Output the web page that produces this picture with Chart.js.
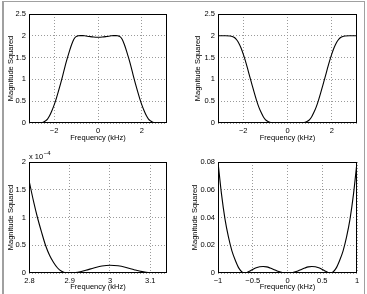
<!DOCTYPE html>
<html><head><meta charset="utf-8">
<script src="https://cdn.jsdelivr.net/npm/chart.js@4/dist/chart.umd.min.js"></script>
<style>
html,body{margin:0;padding:0;background:#fff;width:367px;height:294px;overflow:hidden}
#frame{position:absolute;left:2px;top:1px;width:363px;height:300px;box-sizing:border-box;border-left:2px solid #a0a0a0;border-top:1px solid #a0a0a0;border-right:1px solid #a0a0a0}
.c{position:absolute}
</style></head><body>
<div id="frame"></div>
<div class="c" style="left:0;top:0;width:183px;height:147px"><canvas id="c1"></canvas></div>
<div class="c" style="left:183px;top:0;width:184px;height:147px"><canvas id="c2"></canvas></div>
<div class="c" style="left:0;top:147px;width:183px;height:147px"><canvas id="c3"></canvas></div>
<div class="c" style="left:183px;top:147px;width:184px;height:147px"><canvas id="c4"></canvas></div>
<script>
// ---- data ----
const lpFreq = [-3.1416,-2.8,-2.6,-2.5,-2.4,-2.3,-2.2,-2.1,-2.0,-1.9,-1.8,-1.7,-1.6,-1.5,-1.4,-1.3,-1.2,-1.1,-1.0,-0.9,-0.8,-0.7,-0.6,-0.4,-0.2,0,0.2,0.4,0.6,0.7,0.8,0.9,1.0,1.1,1.2,1.3,1.4,1.5,1.6,1.7,1.8,1.9,2.0,2.1,2.2,2.3,2.4,2.5,2.6,2.8,3.1416];
const lpMag  = [0,0,0,0.015,0.045,0.09,0.17,0.28,0.41,0.56,0.73,0.91,1.1,1.3,1.48,1.65,1.8,1.92,1.98,2.0,2.005,2.005,2.0,1.985,1.972,1.968,1.972,1.985,2.0,2.005,2.005,2.0,1.98,1.92,1.8,1.65,1.48,1.3,1.1,0.91,0.73,0.56,0.41,0.28,0.17,0.09,0.045,0.015,0,0,0];

const hpFreq = [-3.1416,-2.8,-2.6,-2.5,-2.4,-2.3,-2.2,-2.1,-2.0,-1.9,-1.8,-1.7,-1.6,-1.5,-1.4,-1.3,-1.2,-1.1,-1.0,-0.9,-0.8,-0.7,-0.65,-0.5,-0.35,-0.2,0,0.2,0.35,0.5,0.65,0.7,0.8,0.9,1.0,1.1,1.2,1.3,1.4,1.5,1.6,1.7,1.8,1.9,2.0,2.1,2.2,2.3,2.4,2.5,2.6,2.8,3.1416];
const hpMag  = [2.0,2.0,1.995,1.985,1.96,1.91,1.83,1.72,1.58,1.42,1.24,1.05,0.87,0.69,0.52,0.37,0.25,0.15,0.08,0.039,0.016,0.0035,0.0006,0.0026,0.0047,0.0026,0,0.0026,0.0047,0.0026,0.0006,0.0035,0.016,0.039,0.08,0.15,0.25,0.37,0.52,0.69,0.87,1.05,1.24,1.42,1.58,1.72,1.83,1.91,1.96,1.985,1.995,2.0,2.0];

// low-pass stopband detail, values in units of 1e-4
const lpStopFreq = [2.799,2.81,2.82,2.83,2.84,2.85,2.86,2.87,2.88,2.89,2.9,2.92,2.94,2.96,2.98,3.0,3.02,3.04,3.06,3.08,3.1,3.11,3.12,3.1416];
const lpStopMag  = [1.67,1.3,1.0,0.74,0.5,0.32,0.19,0.09,0.03,0.003,0,0.015,0.05,0.09,0.125,0.14,0.13,0.1,0.06,0.025,0.004,0,0.001,0.004];

// high-pass stopband detail
const hpStopFreq = [-1,-0.95,-0.9,-0.85,-0.8,-0.75,-0.7,-0.65,-0.6,-0.55,-0.5,-0.45,-0.4,-0.35,-0.3,-0.25,-0.2,-0.15,-0.1,-0.05,0,0.05,0.1,0.15,0.2,0.25,0.3,0.35,0.4,0.45,0.5,0.55,0.6,0.65,0.7,0.75,0.8,0.85,0.9,0.95,1];
const hpStopMag  = [0.08,0.057,0.039,0.026,0.016,0.009,0.0035,0.0006,0.0002,0.0012,0.0026,0.0038,0.0045,0.0047,0.0044,0.0036,0.0026,0.0015,0.0007,0.0002,0,0.0002,0.0007,0.0015,0.0026,0.0036,0.0044,0.0047,0.0045,0.0038,0.0026,0.0012,0.0002,0.0006,0.0035,0.009,0.016,0.026,0.039,0.057,0.08];

const fullXTicks = [-2,0,2];
const fullYTicks = [0,0.5,1,1.5,2,2.5];
const lpStopXTicks = [2.8,2.9,3,3.1];
const lpStopYTicks = [0,0.5,1,1.5,2];
const hpStopXTicks = [-1,-0.5,0,0.5,1];
const hpStopYTicks = [0,0.02,0.04,0.06,0.08];
const xTitle = 'Frequency (kHz)';
const yTitle = 'Magnitude Squared';

// ---- drawing ----
const FONT = '"Liberation Sans", Arial, sans-serif';
function fmt(v){ const s = String(+v.toFixed(4)); return v < 0 ? '\u2212' + s.slice(1) : s; }

const boxPlugin = {
  id:'box',
  afterDraw(chart, args, opts){
    const a = chart.chartArea, ctx = chart.ctx;
    ctx.save();
    ctx.strokeStyle = '#000'; ctx.lineWidth = 1;
    ctx.strokeRect(Math.round(a.left)+0.5, Math.round(a.top)+0.5, Math.round(a.right-a.left)-1, Math.round(a.bottom-a.top)-1);
    ctx.fillStyle = '#000';
    // y-axis title
    ctx.save();
    ctx.font = '7.5px ' + FONT;
    ctx.textAlign = 'center'; ctx.textBaseline = 'middle';
    ctx.translate(opts.ytx, (a.top + a.bottom) / 2);
    ctx.rotate(-Math.PI / 2);
    ctx.fillText(opts.yTitle, 0, 0);
    ctx.restore();
    if (opts.exp) {
      ctx.font = '7.5px ' + FONT;
      ctx.textBaseline = 'alphabetic'; ctx.textAlign = 'left';
      ctx.fillText('x 10', a.left, a.top - 3);
      const w = ctx.measureText('x 10').width;
      ctx.font = '6px ' + FONT;
      ctx.fillText('\u22124', a.left + w + 0.5, a.top - 7);
    }
    ctx.restore();
  }
};

function make(id, xs, ys, xmin, xmax, xt, yt, ymax, geo, exp){
  const ticksFrom = arr => (scale => { scale.ticks = arr.map(v => ({value:v})); });
  return new Chart(document.getElementById(id), {
    type:'line',
    data:{ datasets:[{ data: xs.map((x,i)=>({x:x, y:ys[i]})), borderColor:'#000', borderWidth:1.1, pointRadius:0, cubicInterpolationMode:'monotone', fill:false }]},
    options:{
      responsive:true, maintainAspectRatio:false, animation:false,
      layout:{ padding:{ top:geo.top, right:geo.right, left:0, bottom:0 } },
      plugins:{ legend:{display:false}, tooltip:{enabled:false}, box:{exp:exp, ytx:geo.ytx, yTitle:yTitle} },
      scales:{
        x:{ type:'linear', min:xmin, max:xmax,
            afterBuildTicks: ticksFrom(xt),
            afterFit: s => { s.height = geo.xh; },
            grid:{ color:'#9a9a9a', drawTicks:false, lineWidth:1 },
            border:{ display:false, dash:[1,2] },
            ticks:{ padding:3, maxRotation:0, autoSkip:false, font:{family:FONT, size:7.5}, color:'#000', callback: v => fmt(v) },
            title:{ display:true, text:xTitle, font:{family:FONT, size:7.5}, color:'#000', padding:{top:0, bottom:geo.xtp} } },
        y:{ type:'linear', min:0, max:ymax,
            afterBuildTicks: ticksFrom(yt),
            afterFit: s => { s.width = geo.yw; },
            grid:{ color:'#9a9a9a', drawTicks:false, lineWidth:1 },
            border:{ display:false, dash:[1,2] },
            ticks:{ padding:3, autoSkip:false, font:{family:FONT, size:7.5}, color:'#000', callback: v => fmt(v) },
            title:{ display:false } }
      }
    },
    plugins:[boxPlugin]
  });
}

make('c1', lpFreq, lpMag, -Math.PI, Math.PI, fullXTicks, fullYTicks, 2.5, {top:14, right:16, xh:24, yw:29, xtp:5, ytx:10.7}, false);
make('c2', hpFreq, hpMag, -Math.PI, Math.PI, fullXTicks, fullYTicks, 2.5, {top:14, right:10, xh:24, yw:35, xtp:5, ytx:15}, false);
make('c3', lpStopFreq, lpStopMag, 2.799, Math.PI, lpStopXTicks, lpStopYTicks, 2, {top:15, right:16, xh:21, yw:29, xtp:3, ytx:11}, true);
make('c4', hpStopFreq, hpStopMag, -1, 1, hpStopXTicks, hpStopYTicks, 0.08, {top:15, right:10, xh:21, yw:35, xtp:3, ytx:12}, false);
</script>
</body></html>
